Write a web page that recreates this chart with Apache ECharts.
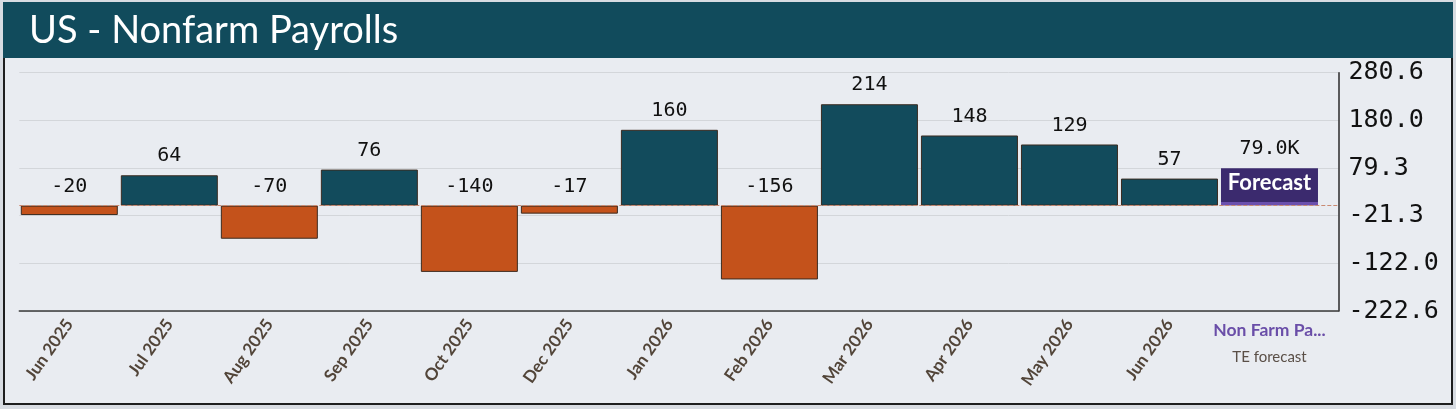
<!DOCTYPE html>
<html>
<head>
<meta charset="utf-8">
<script src="https://cdn.jsdelivr.net/npm/echarts@6/dist/echarts.min.js"></script>
<style>
    body { margin: 0; background: #d8dce2; }
    #frame { position: absolute; left: 3px; top: 2px; width: 1446px; height: 399px; border: 2px solid #1e1e1e; background: #e9ecf1; }
    #chart { position: absolute; left: 0; top: 0; width: 1456px; height: 409px; }
</style>
</head>
<body>
<div id="frame"></div>
<div id="chart"></div>
<script>
const months = ['Jun 2025', 'Jul 2025', 'Aug 2025', 'Sep 2025', 'Oct 2025', 'Dec 2025',
    'Jan 2026', 'Feb 2026', 'Mar 2026', 'Apr 2026', 'May 2026', 'Jun 2026'];
const payrolls = [-20, 64, -70, 76, -140, -17, 160, -156, 214, 148, 129, 57];
const forecastValue = 79;
const forecastText = '79.0K';
const forecastNames = ['Non Farm Pa...', 'TE forecast'];
const yTicks = [-222.6, -122.0, -21.3, 79.3, 180.0, 280.6];

let chart = echarts.init(document.getElementById('chart'));

const yMin = yTicks[0];
const yMax = yTicks[yTicks.length - 1];
const yStep = (yMax - yMin) / (yTicks.length - 1);
const lastIdx = months.length; // forecast slot

const monoFont = 'DejaVu Sans Mono';
const labelFont = 'Lato';

// bars sit on a value axis so the plot can run past the last slot, like the original
const xBase = {
    type: 'value',
    position: 'bottom',
    min: -0.5,
    max: 12.69,
    gridIndex: 0,
    splitLine: { show: false },
    axisTick: { show: false }
};

const option = {
    animation: false,
    graphic: [
        { type: 'rect', shape: { x: 3, y: 2, width: 1450, height: 56 }, style: { fill: '#114b5c' }, z: 0 }
    ],
    title: {
        text: 'US - Nonfarm Payrolls',
        left: 24,
        top: 7,
        textStyle: { color: '#ffffff', fontSize: 38, fontWeight: 'normal', fontFamily: labelFont }
    },
    grid: { left: 19.3, right: 117.5, top: 72.7, bottom: 98 },
    xAxis: [
        Object.assign({}, xBase, {
            axisLine: { show: true, onZero: false, lineStyle: { color: '#3a3a3a', width: 1.5 } },
            axisLabel: {
                customValues: months.map((m, i) => i),
                formatter: v => months[Math.round(v)] || '',
                rotate: 55,
                margin: 10,
                color: '#524539',
                fontSize: 17,
                fontWeight: 'bold',
                fontFamily: labelFont
            }
        }),
        Object.assign({}, xBase, {
            axisLine: { show: false },
            axisLabel: {
                customValues: [lastIdx],
                formatter: () => '{a|' + forecastNames[0] + '}\n{b|' + forecastNames[1] + '}',
                rotate: 0,
                margin: 7,
                rich: {
                    a: { color: '#6a4ea8', fontSize: 17.5, fontWeight: 'bold', fontFamily: labelFont, lineHeight: 24 },
                    b: { color: '#5a4f47', fontSize: 15, fontFamily: labelFont, lineHeight: 30 }
                }
            }
        })
    ],
    yAxis: {
        type: 'value',
        position: 'right',
        min: yMin,
        max: yMax,
        interval: yStep,
        axisLine: { show: true, onZero: false, lineStyle: { color: '#2a2a2a', width: 1.5 } },
        axisTick: { show: false },
        splitLine: { lineStyle: { color: '#d3d6da', width: 1 } },
        axisLabel: {
            margin: 10,
            color: '#111111',
            fontSize: 25,
            fontFamily: monoFont,
            formatter: v => v.toFixed(1)
        }
    },
    series: [
        {
            name: 'Actual',
            type: 'bar',
            barWidth: 97,
            barGap: '-100%',
            data: payrolls.map((v, i) => ({
                value: [i, v],
                itemStyle: { color: v < 0 ? '#c4521b' : '#124b5c' }
            })),
            itemStyle: { borderColor: '#3b2b20', borderWidth: 1 },
            label: {
                show: true,
                position: 'top',
                distance: 9,
                color: '#111111',
                fontSize: 20,
                fontFamily: monoFont,
                formatter: p => p.value[1]
            },
            markLine: {
                silent: true,
                symbol: 'none',
                label: { show: false },
                lineStyle: { color: '#c98a72', type: 'dashed', width: 1 },
                data: [{ yAxis: 0 }]
            }
        },
        {
            name: 'Forecast',
            type: 'bar',
            barWidth: 97,
            barGap: '-100%',
            data: [[lastIdx, forecastValue]],
            itemStyle: {
                color: {
                    type: 'linear', x: 0, y: 0, x2: 0, y2: 1,
                    colorStops: [
                        { offset: 0, color: '#3b2a6e' },
                        { offset: 0.9, color: '#3b2a6e' },
                        { offset: 0.9, color: '#6b50ad' },
                        { offset: 1, color: '#6b50ad' }
                    ]
                }
            },
            label: {
                show: true,
                position: ['50%', -36],
                align: 'center',
                verticalAlign: 'top',
                formatter: () => '{v|' + forecastText + '}\n{f|Forecast}',
                rich: {
                    v: { color: '#111111', fontSize: 20, fontFamily: monoFont, lineHeight: 34, align: 'center' },
                    f: { color: '#ffffff', fontSize: 22, fontWeight: 'bold', fontFamily: labelFont, lineHeight: 34, align: 'center' }
                }
            }
        }
    ]
};

chart.setOption(option);
</script>
</body>
</html>
